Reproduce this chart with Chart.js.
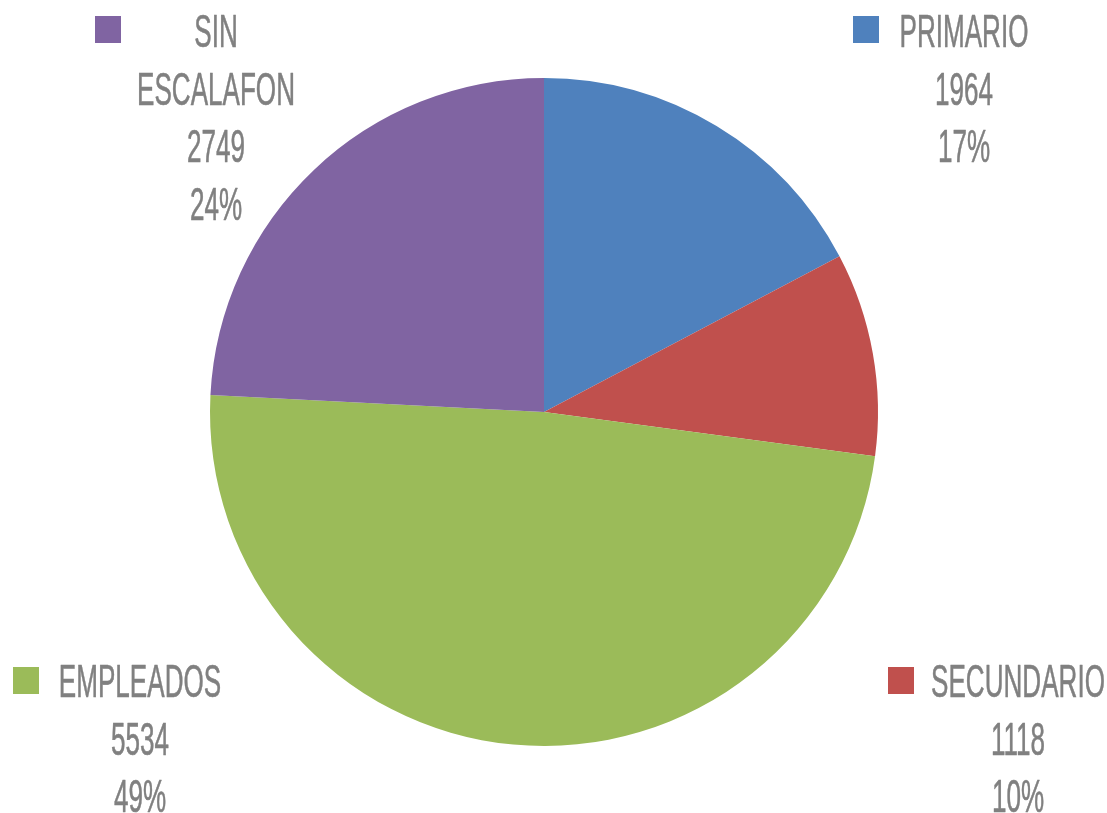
<!DOCTYPE html>
<html>
<head>
<meta charset="utf-8">
<script src="https://cdn.jsdelivr.net/npm/chart.js@4.4.0/dist/chart.umd.min.js"></script>
<style>
  html, body { margin: 0; padding: 0; background: #ffffff; }
  #wrap { width: 1107px; height: 813px; }
</style>
</head>
<body>
<div id="wrap"><canvas id="grafico" width="1107" height="813"></canvas></div>
<script>
// datos
const categorias = ['PRIMARIO', 'SECUNDARIO', 'EMPLEADOS', 'SIN ESCALAFON'];
const valores = [1964, 1118, 5534, 2749];
const colores = ['#4F81BD', '#C0504D', '#9BBB59', '#8064A2'];

// posicion de cada etiqueta (centro del texto, primera linea base, clave)
const posEtiquetas = [
    { cx: 964, y0: 47, keyX: 853, keyY: 16 },
    { cx: 1018, y0: 697, keyX: 888, keyY: 667 },
    { cx: 140, y0: 697, keyX: 13, keyY: 667 },
    { cx: 216, y0: 47, keyX: 95, keyY: 16 }
];

const total = valores.reduce((a, b) => a + b, 0);

// plugin para dibujar las etiquetas estilo Excel en las esquinas
const etiquetasPlugin = {
    id: 'etiquetasEsquinas',
    afterDraw(chart) {
        const ctx = chart.ctx;
        const escalaX = 0.555;
        const interlinea = 57.5;
        ctx.save();
        ctx.font = '47px "Liberation Sans", Arial, sans-serif';
        ctx.textAlign = 'center';
        ctx.textBaseline = 'alphabetic';
        ctx.lineJoin = 'round';

        categorias.forEach((cat, i) => {
            const p = posEtiquetas[i];
            const pct = Math.round(valores[i] / total * 100) + '%';
            const lineas = cat.indexOf(' ') > 0 ? cat.split(' ') : [cat];
            lineas.push(String(valores[i]));
            lineas.push(pct);

            // clave de color
            ctx.fillStyle = colores[i];
            ctx.fillRect(p.keyX, p.keyY, 26, 27);

            ctx.fillStyle = '#808080';
            ctx.strokeStyle = '#808080';
            ctx.lineWidth = 0.6;
            lineas.forEach((txt, j) => {
                ctx.save();
                ctx.translate(p.cx, p.y0 + j * interlinea);
                ctx.scale(escalaX, 1);
                ctx.fillText(txt, 0, 0);
                ctx.strokeText(txt, 0, 0);
                ctx.restore();
            });
        });
        ctx.restore();
    }
};

const ctx = document.getElementById('grafico').getContext('2d');
const grafico = new Chart(ctx, {
    type: 'pie',
    data: {
        labels: categorias,
        datasets: [{
            data: valores,
            backgroundColor: colores,
            borderWidth: 0
        }]
    },
    options: {
        responsive: false,
        animation: false,
        devicePixelRatio: 1,
        layout: {
            padding: { top: 78, bottom: 67, left: 0, right: 19 }
        },
        plugins: {
            legend: { display: false },
            tooltip: { enabled: false }
        }
    },
    plugins: [etiquetasPlugin]
});
</script>
</body>
</html>
